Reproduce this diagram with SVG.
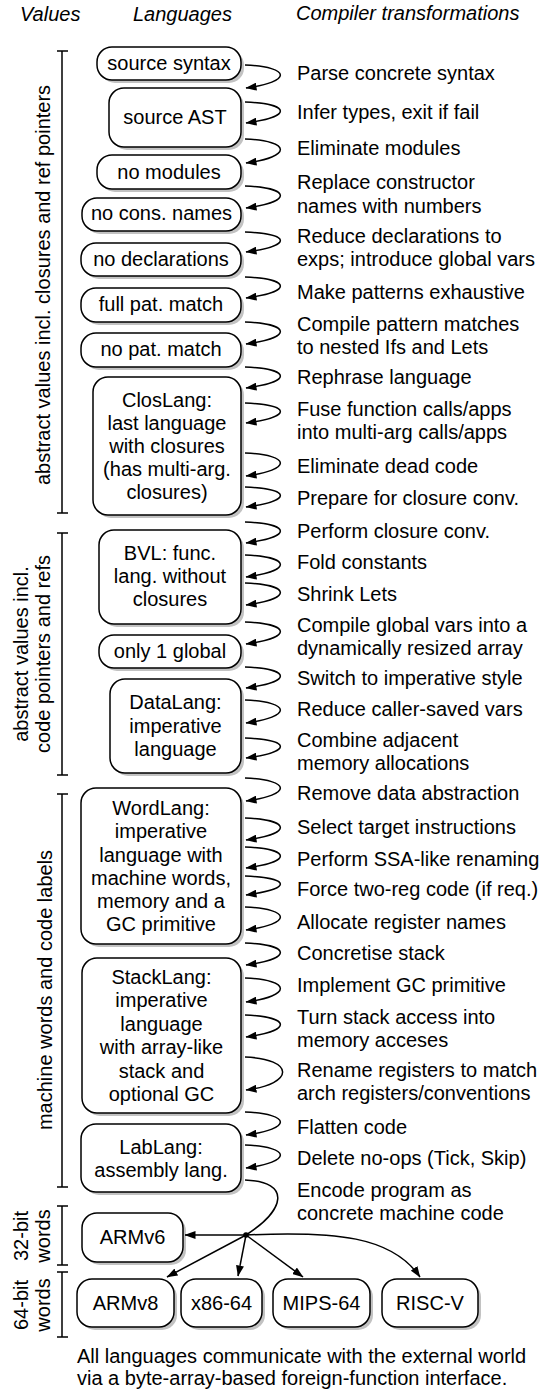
<svg xmlns="http://www.w3.org/2000/svg" width="548" height="1394" viewBox="0 0 548 1394">
<style>
text{font-family:"Liberation Sans",Arial,Helvetica,sans-serif;font-size:20px;fill:#000}
.h{font-style:italic}
.c{text-anchor:middle}
.box{fill:#fff;stroke:#000;stroke-width:1.5}
.sh{fill:#c2c2c2;stroke:none}
.br{fill:none;stroke:#000;stroke-width:1.5}
.cn{fill:none;stroke:#000;stroke-width:1.5}
</style>
<defs>
<marker id="ah" markerUnits="userSpaceOnUse" markerWidth="11" markerHeight="8" refX="10.5" refY="4" orient="auto">
<path d="M0,0 L11,4 L0,8 z" fill="#000"/>
</marker>
</defs>
<rect width="548" height="1394" fill="#fff"/>

<g id="headers">
<text class="h" x="20" y="21">Values</text>
<text class="h" x="133" y="21">Languages</text>
<text class="h" x="296" y="20">Compiler transformations</text>
</g>

<g id="brackets">
<path class="br" d="M62,51 V513 M57,51 H68 M57,513 H68"/>
<path class="br" d="M62,533 V775 M57,533 H68 M57,775 H68"/>
<path class="br" d="M62,794 V1187 M57,794 H68 M57,1187 H68"/>
<path class="br" d="M62,1206 V1265 M57,1206 H68 M57,1265 H68"/>
<path class="br" d="M62,1272 V1337 M57,1272 H68 M57,1337 H68"/>
<text class="c" transform="translate(50,285) rotate(-90)">abstract values incl. closures and ref pointers</text>
<text class="c" transform="translate(28,654) rotate(-90)">abstract values incl.</text>
<text class="c" transform="translate(50,654) rotate(-90)">code pointers and refs</text>
<text class="c" transform="translate(52,990) rotate(-90)">machine words and code labels</text>
<text class="c" transform="translate(28,1236) rotate(-90)">32-bit</text>
<text class="c" transform="translate(50,1236) rotate(-90)">words</text>
<text class="c" transform="translate(28,1305) rotate(-90)">64-bit</text>
<text class="c" transform="translate(50,1305) rotate(-90)">words</text>
</g>

<g id="n-source-syntax"><rect class="sh" x="100" y="50" width="144" height="33" rx="15"/><rect class="box" x="97" y="47" width="144" height="33" rx="15"/><text class="c" x="169" y="70">source syntax</text></g>
<g id="n-source-ast"><rect class="sh" x="112" y="91" width="132" height="59" rx="15"/><rect class="box" x="109" y="88" width="132" height="59" rx="15"/><text class="c" x="175" y="124">source AST</text></g>
<g id="n-no-modules"><rect class="sh" x="100" y="158" width="144" height="34" rx="15"/><rect class="box" x="97" y="155" width="144" height="34" rx="15"/><text class="c" x="169" y="179">no modules</text></g>
<g id="n-no-cons-names"><rect class="sh" x="85" y="201" width="159" height="33" rx="15"/><rect class="box" x="82" y="198" width="159" height="33" rx="15"/><text class="c" x="161.5" y="220">no cons. names</text></g>
<g id="n-no-declarations"><rect class="sh" x="84" y="246" width="160" height="33" rx="15"/><rect class="box" x="81" y="243" width="160" height="33" rx="15"/><text class="c" x="161" y="266">no declarations</text></g>
<g id="n-full-pat-match"><rect class="sh" x="84" y="291" width="160" height="34" rx="15"/><rect class="box" x="81" y="288" width="160" height="34" rx="15"/><text class="c" x="161" y="311">full pat. match</text></g>
<g id="n-no-pat-match"><rect class="sh" x="84" y="336" width="160" height="34" rx="15"/><rect class="box" x="81" y="333" width="160" height="34" rx="15"/><text class="c" x="161" y="356">no pat. match</text></g>
<g id="n-closlang"><rect class="sh" x="96" y="380" width="148" height="138" rx="15"/><rect class="box" x="93" y="377" width="148" height="138" rx="15"/>
<text class="c" x="167" y="407">ClosLang:</text><text class="c" x="167" y="430">last language</text><text class="c" x="167" y="453">with closures</text><text class="c" x="167" y="476">(has multi-arg.</text><text class="c" x="167" y="499">closures)</text></g>
<g id="n-bvl"><rect class="sh" x="102" y="533" width="142" height="94" rx="15"/><rect class="box" x="99" y="530" width="142" height="94" rx="15"/>
<text class="c" x="170" y="560">BVL: func.</text><text class="c" x="170" y="583">lang. without</text><text class="c" x="170" y="606">closures</text></g>
<g id="n-only-1-global"><rect class="sh" x="102" y="638" width="142" height="33" rx="15"/><rect class="box" x="99" y="635" width="142" height="33" rx="15"/><text class="c" x="170" y="658">only 1 global</text></g>
<g id="n-datalang"><rect class="sh" x="113" y="682" width="131" height="94" rx="15"/><rect class="box" x="110" y="679" width="131" height="94" rx="15"/>
<text class="c" x="175.5" y="709">DataLang:</text><text class="c" x="175.5" y="733">imperative</text><text class="c" x="175.5" y="756">language</text></g>
<g id="n-wordlang"><rect class="sh" x="84" y="791" width="160" height="156" rx="15"/><rect class="box" x="81" y="788" width="160" height="156" rx="15"/>
<text class="c" x="161" y="815">WordLang:</text><text class="c" x="161" y="838">imperative</text><text class="c" x="161" y="862">language with</text><text class="c" x="161" y="885">machine words,</text><text class="c" x="161" y="908">memory and a</text><text class="c" x="161" y="931">GC primitive</text></g>
<g id="n-stacklang"><rect class="sh" x="85" y="961" width="159" height="155" rx="15"/><rect class="box" x="82" y="958" width="159" height="155" rx="15"/>
<text class="c" x="161.5" y="984">StackLang:</text><text class="c" x="161.5" y="1007">imperative</text><text class="c" x="161.5" y="1031">language</text><text class="c" x="161.5" y="1054">with array-like</text><text class="c" x="161.5" y="1078">stack and</text><text class="c" x="161.5" y="1101">optional GC</text></g>
<g id="n-lablang"><rect class="sh" x="84" y="1127" width="160" height="68" rx="15"/><rect class="box" x="81" y="1124" width="160" height="68" rx="15"/>
<text class="c" x="161" y="1154">LabLang:</text><text class="c" x="161" y="1177">assembly lang.</text></g>
<g id="n-armv6"><rect class="sh" x="85" y="1216" width="101" height="49" rx="15"/><rect class="box" x="82" y="1213" width="101" height="49" rx="15"/><text class="c" x="132.5" y="1244">ARMv6</text></g>
<g id="n-armv8"><rect class="sh" x="80" y="1282" width="97" height="48" rx="15"/><rect class="box" x="77" y="1279" width="97" height="48" rx="15"/><text class="c" x="125.5" y="1310">ARMv8</text></g>
<g id="n-x86-64"><rect class="sh" x="184" y="1282" width="81" height="48" rx="15"/><rect class="box" x="181" y="1279" width="81" height="48" rx="15"/><text class="c" x="221.5" y="1310">x86-64</text></g>
<g id="n-mips-64"><rect class="sh" x="276" y="1282" width="97" height="48" rx="15"/><rect class="box" x="273" y="1279" width="97" height="48" rx="15"/><text class="c" x="321.5" y="1310">MIPS-64</text></g>
<g id="n-risc-v"><rect class="sh" x="385" y="1282" width="96" height="48" rx="15"/><rect class="box" x="382" y="1279" width="96" height="48" rx="15"/><text class="c" x="430" y="1310">RISC-V</text></g>

<g id="connectors" class="cn" marker-end="url(#ah)">
<path d="M245,65 C292,67 292,82 246,88"/>
<path d="M245,102 C292,104 292,117 246,123"/>
<path d="M245,139 C292,141 292,157 246,163"/>
<path d="M245,186 C292,188 292,202 246,208"/>
<path d="M245,232 C292,234 292,246 246,252"/>
<path d="M245,277 C292,279 292,292 246,298"/>
<path d="M245,322 C292,324 292,338 246,344"/>
<path d="M245,367 C292,369 292,382 246,388"/>
<path d="M245,403 C292,405 292,417 246,423"/>
<path d="M245,453 C292,455 292,470 246,476"/>
<path d="M245,487 C292,489 292,501 246,507"/>
<path d="M245,522 C292,524 292,537 246,543"/>
<path d="M245,555 C292,557 292,571 246,577"/>
<path d="M245,583 C292,585 292,599 246,605"/>
<path d="M245,622 C292,624 292,638 246,644"/>
<path d="M245,667 C292,669 292,682 246,688"/>
<path d="M245,700 C292,702 292,717 246,723"/>
<path d="M245,738 C292,740 292,752 246,758"/>
<path d="M245,778 C292,780 292,795 246,801"/>
<path d="M245,818 C292,820 292,834 246,840"/>
<path d="M245,847 C292,849 292,862 246,868"/>
<path d="M245,876 C292,878 292,889 246,895"/>
<path d="M245,907 C292,909 292,924 246,930"/>
<path d="M245,943 C292,945 292,959 246,965"/>
<path d="M245,978 C292,980 292,996 246,1002"/>
<path d="M245,1015 C292,1017 292,1031 246,1037"/>
<path d="M245,1057 C295,1059 295,1084 246,1090"/>
<path d="M245,1112 C292,1114 292,1129 246,1135"/>
<path d="M245,1145 C292,1147 292,1162 246,1168"/>
<path d="M245,1180 C292,1182 285,1210 246,1235" marker-end="none"/>
<path d="M246,1235 H185"/>
<path d="M246,1235 L167,1277"/>
<path d="M246,1235 L238,1276"/>
<path d="M246,1235 L303,1277"/>
<path d="M246,1235 C335,1231 392,1236 420,1277"/>
<circle cx="246" cy="1235" r="2.8" fill="#000" stroke="none" marker-end="none"/>
</g>

<g id="transformations">
<text x="297" y="80">Parse concrete syntax</text>
<text x="297" y="119">Infer types, exit if fail</text>
<text x="297" y="155">Eliminate modules</text>
<text x="297" y="189">Replace constructor</text>
<text x="297" y="213">names with numbers</text>
<text x="297" y="243">Reduce declarations to</text>
<text x="297" y="266">exps; introduce global vars</text>
<text x="297" y="299">Make patterns exhaustive</text>
<text x="297" y="331">Compile pattern matches</text>
<text x="297" y="354">to nested Ifs and Lets</text>
<text x="297" y="384">Rephrase language</text>
<text x="297" y="416">Fuse function calls/apps</text>
<text x="297" y="439">into multi-arg calls/apps</text>
<text x="297" y="473">Eliminate dead code</text>
<text x="297" y="505">Prepare for closure conv.</text>
<text x="297" y="538">Perform closure conv.</text>
<text x="297" y="569">Fold constants</text>
<text x="297" y="601">Shrink Lets</text>
<text x="297" y="632">Compile global vars into a</text>
<text x="297" y="655">dynamically resized array</text>
<text x="297" y="685">Switch to imperative style</text>
<text x="297" y="716">Reduce caller-saved vars</text>
<text x="297" y="747">Combine adjacent</text>
<text x="297" y="770">memory allocations</text>
<text x="297" y="800">Remove data abstraction</text>
<text x="297" y="834">Select target instructions</text>
<text x="297" y="866">Perform SSA-like renaming</text>
<text x="297" y="896">Force two-reg code (if req.)</text>
<text x="297" y="929">Allocate register names</text>
<text x="297" y="960">Concretise stack</text>
<text x="297" y="992">Implement GC primitive</text>
<text x="297" y="1024">Turn stack access into</text>
<text x="297" y="1047">memory acceses</text>
<text x="297" y="1077">Rename registers to match</text>
<text x="297" y="1100">arch registers/conventions</text>
<text x="297" y="1134">Flatten code</text>
<text x="297" y="1165">Delete no-ops (Tick, Skip)</text>
<text x="297" y="1197">Encode program as</text>
<text x="297" y="1220">concrete machine code</text>
</g>

<g id="footer">
<text x="77" y="1363">All languages communicate with the external world</text>
<text x="77" y="1385">via a byte-array-based foreign-function interface.</text>
</g>
</svg>
